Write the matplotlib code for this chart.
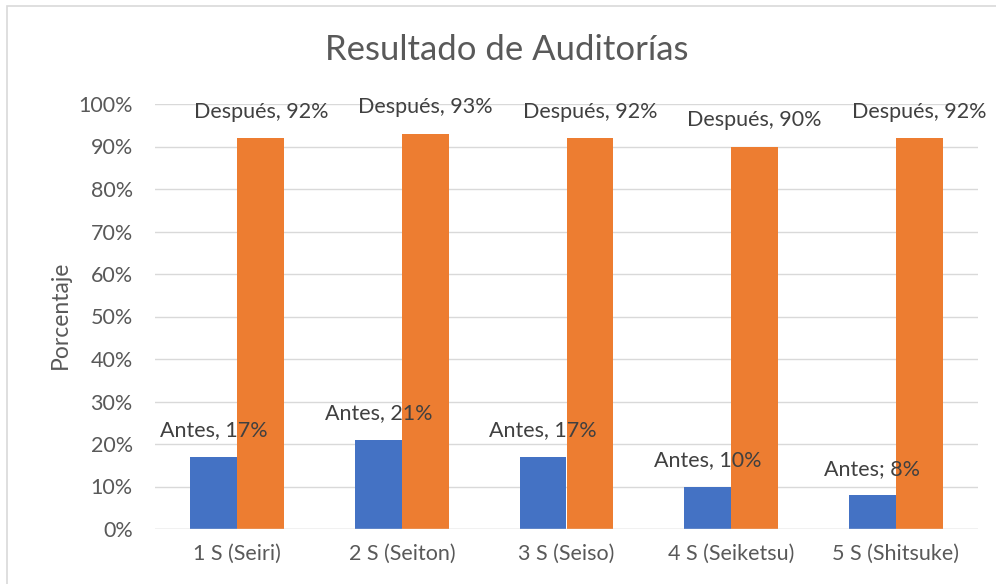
import matplotlib
matplotlib.use("Agg")
import matplotlib.pyplot as plt
from matplotlib.patches import Rectangle
import numpy as np

categories = ["1 S (Seiri)", "2 S (Seiton)", "3 S (Seiso)", "4 S (Seiketsu)", "5 S (Shitsuke)"]
antes = [17, 21, 17, 10, 8]
despues = [92, 93, 92, 90, 92]
antes_labels = ["Antes, 17%", "Antes, 21%", "Antes, 17%", "Antes, 10%", "Antes; 8%"]
despues_labels = ["Después, 92%", "Después, 93%", "Después, 92%", "Después, 90%", "Después, 92%"]
yticks = [0, 10, 20, 30, 40, 50, 60, 70, 80, 90, 100]

plt.rcParams["font.family"] = ["Lato", "DejaVu Sans"]
text_color = "#595959"
blue = "#4472C4"
orange = "#ED7D31"

W, H = 996, 584
fig = plt.figure(figsize=(W / 100, H / 100), dpi=100)

# chart frame
fig.patches.append(Rectangle((7 / W, -0.1), 1.2, 1 - 6 / H + 0.1, transform=fig.transFigure,
                             fill=False, edgecolor="#d9d9d9", linewidth=1.2))

ax = fig.add_axes([155 / W, 1 - 529 / H, (978 - 155) / W, (529 - 104) / H])
x = np.arange(len(categories))
bw = 0.285
b1 = ax.bar(x - bw / 2, antes, bw, color=blue, zorder=3)
b2 = ax.bar(x + bw / 2, despues, bw, color=orange, zorder=3)

for bars, labels in ((b1, antes_labels), (b2, despues_labels)):
    for rect, lab in zip(bars, labels):
        ax.annotate(lab, (rect.get_x() + rect.get_width() / 2, rect.get_height()),
                    xytext=(0, 19), textcoords="offset points", ha="center", va="center",
                    fontsize=15.5, color="#404040", zorder=5)

ax.set_xlim(-0.5, len(categories) - 0.5)
ax.set_ylim(0, 100)
ax.set_yticks(yticks)
ax.set_yticklabels([f"{v}%" for v in yticks])
ax.set_xticks(x)
ax.set_xticklabels(categories)
ax.tick_params(axis="both", length=0, labelsize=15.5, colors=text_color)
ax.tick_params(axis="y", pad=16)
ax.tick_params(axis="x", pad=11)
ax.grid(axis="y", color="#d9d9d9", linewidth=1, zorder=0)
for s in ax.spines.values():
    s.set_visible(False)
ax.axhline(0, color="#d9d9d9", linewidth=1, zorder=4)

fig.text(60 / W, 1 - 315 / H, "Porcentaje", rotation=90, ha="center", va="center",
         fontsize=16.5, color=text_color)
fig.text(507 / W, 1 - 50 / H, "Resultado de Auditorías", ha="center", va="center",
         fontsize=25, color=text_color)

fig.savefig("out.png", dpi=100, facecolor="white")
